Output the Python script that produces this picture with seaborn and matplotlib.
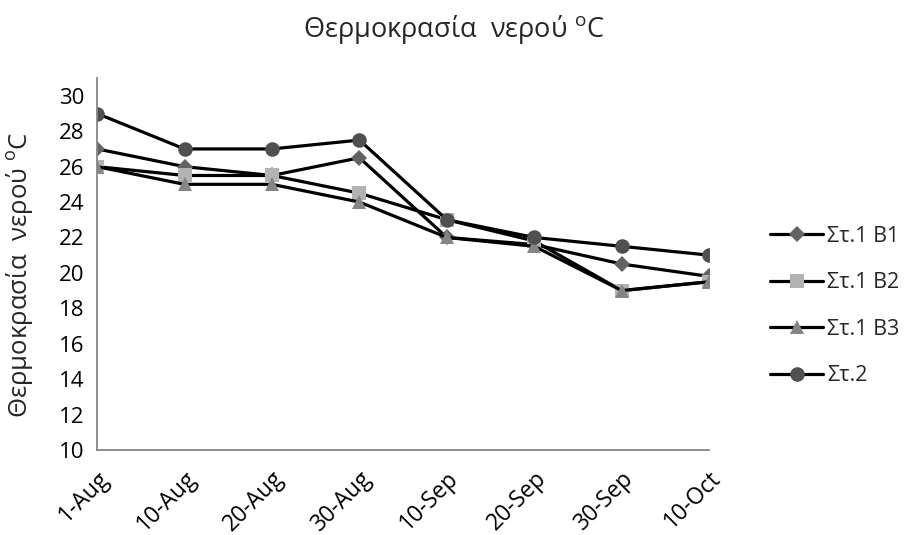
import matplotlib
matplotlib.use("Agg")
import matplotlib.pyplot as plt
import seaborn as sns
import pandas as pd

dates = ["1-Aug", "10-Aug", "20-Aug", "30-Aug", "10-Sep", "20-Sep", "30-Sep", "10-Oct"]

st1_b1 = [27.0, 26.0, 25.5, 26.5, 22.0, 21.6, 20.5, 19.8]
st1_b2 = [26.0, 25.5, 25.5, 24.5, 23.0, 21.8, 19.0, 19.5]
st1_b3 = [26.0, 25.0, 25.0, 24.0, 22.0, 21.5, 19.0, 19.5]
st2 = [29.0, 27.0, 27.0, 27.5, 23.0, 22.0, 21.5, 21.0]

series_names = ["Στ.1 Β1", "Στ.1 Β2", "Στ.1 Β3", "Στ.2"]
series_values = [st1_b1, st1_b2, st1_b3, st2]

title_text = "Θερμοκρασία  νερού $^{\\mathrm{o}}$C"
ylabel_text = "Θερμοκρασία  νερού $^{\\mathrm{o}}$C"
y_ticks = list(range(10, 31, 2))

sns.set_style("white")
plt.rcParams["font.family"] = ["Open Sans", "DejaVu Sans"]
plt.rcParams["mathtext.fontset"] = "custom"
plt.rcParams["mathtext.rm"] = "Open Sans"

styles = {
    "Στ.1 Β1": dict(marker="D", markersize=8.5, markerfacecolor="#636363"),
    "Στ.1 Β2": dict(marker="s", markersize=9.5, markerfacecolor="#b2b2b2"),
    "Στ.1 Β3": dict(marker="^", markersize=10.5, markerfacecolor="#858585"),
    "Στ.2": dict(marker="o", markersize=10.5, markerfacecolor="#505050"),
}

tick_fs = 16
fig = plt.figure(figsize=(9.07, 5.35), dpi=100)
ax = fig.add_axes([0.107, 0.159, 0.675, 0.695])

x_pos = list(range(len(dates)))
for name, vals in zip(series_names, series_values):
    df = pd.DataFrame({"x": x_pos, "y": vals})
    st = styles[name]
    sns.lineplot(data=df, x="x", y="y", ax=ax, color="black", linewidth=2.3,
                 marker=st["marker"], markersize=st["markersize"],
                 markerfacecolor=st["markerfacecolor"],
                 markeredgecolor=st["markerfacecolor"], markeredgewidth=0,
                 label=name)

ax.set_xlim(0, len(dates) - 1)
ax.set_ylim(10, 31)
ax.set_xticks(x_pos)
ax.set_xticklabels(dates, rotation=45, ha="right", rotation_mode="anchor", fontsize=16.5)
ax.set_yticks(y_ticks)
ax.set_yticklabels([str(v) for v in y_ticks], fontsize=tick_fs)
ax.set_xlabel("")
ax.set_ylabel(ylabel_text, fontsize=18.5)
ax.yaxis.set_label_coords(-0.101, 0.47)

for side in ["top", "right"]:
    ax.spines[side].set_visible(False)
for side in ["left", "bottom"]:
    ax.spines[side].set_color("#868686")
    ax.spines[side].set_linewidth(1.3)
ax.tick_params(axis="both", which="major", direction="out", length=6, width=1.3,
               color="#868686", labelcolor="black", pad=3)
ax.tick_params(axis="x", pad=6)

leg = ax.legend(loc="center left", bbox_to_anchor=(0.849, 0.428),
                bbox_transform=fig.transFigure, frameon=False,
                fontsize=15.5, handlelength=2.47, handletextpad=0.19,
                labelspacing=1.19, borderaxespad=0, borderpad=0)

fig.suptitle(title_text, x=0.5, y=0.975, fontsize=19.5)

fig.savefig("out.png", dpi=100)
